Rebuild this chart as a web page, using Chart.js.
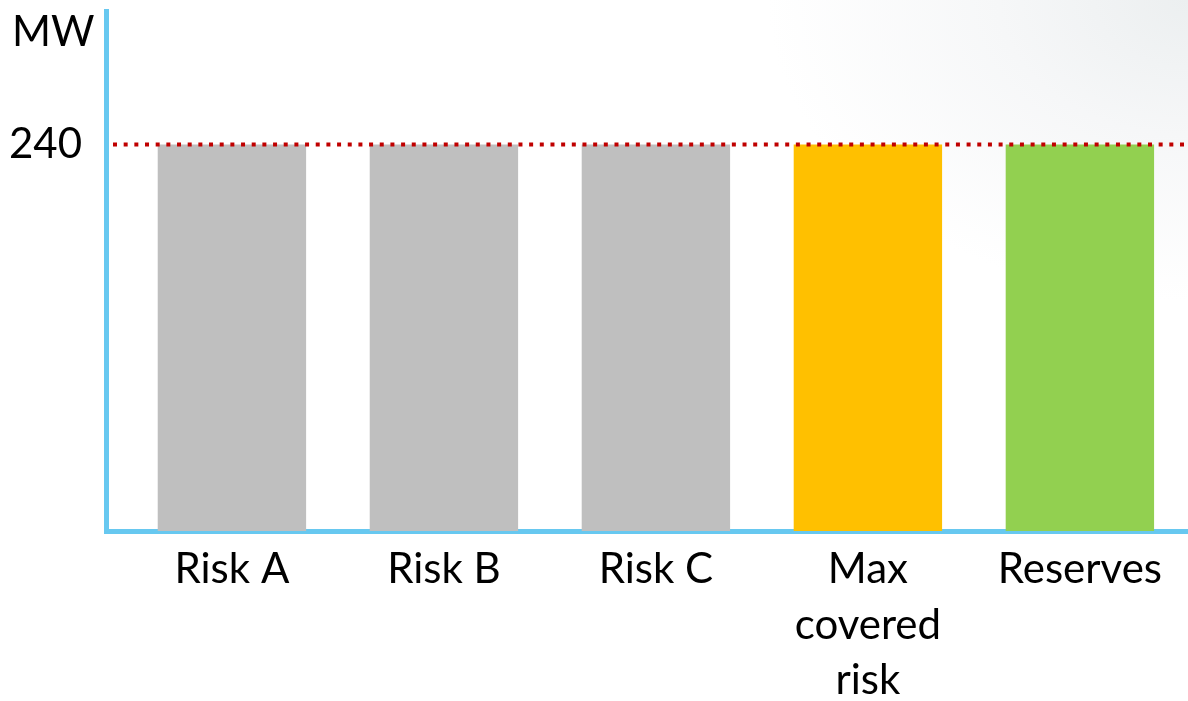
<!DOCTYPE html>
<html>
<head>
<meta charset="utf-8">
<script src="https://cdn.jsdelivr.net/npm/chart.js@4"></script>
<style>
  html, body { margin: 0; padding: 0; }
  body {
    width: 1188px; height: 701px; overflow: hidden;
    background: radial-gradient(ellipse 420px 300px at 1188px 0px, #eceff0 0%, #f6f7f8 45%, #ffffff 100%);
  }
  #wrap { position: relative; width: 1188px; height: 701px; }
</style>
</head>
<body>
<div id="wrap"><canvas id="chart" width="1188" height="701"></canvas></div>
<script>
// Categories (multi-line labels as arrays), values in MW
const categories = ['Risk A', 'Risk B', 'Risk C', ['Max', 'covered', 'risk'], 'Reserves'];
const valuesMW = [240, 240, 240, 240, 240];
const barColors = ['#bfbfbf', '#bfbfbf', '#bfbfbf', '#ffc000', '#92d050'];
const yTickValues = [240];
const referenceLevel = 240;
const unitLabel = 'MW';

const FONT = 'Lato, "Liberation Sans", sans-serif';
const FONT_SIZE = 42;
const AXIS_BLUE = '#67c8f0';

// Dotted reference line at the capacity level, drawn over the bars
const referenceLine = {
  id: 'referenceLine',
  afterDatasetsDraw(chart) {
    const { ctx, chartArea, scales } = chart;
    const y = scales.y.getPixelForValue(referenceLevel);
    ctx.save();
    ctx.strokeStyle = '#c00000';
    ctx.lineWidth = 4;
    ctx.setLineDash([4, 6.67]);
    ctx.beginPath();
    ctx.moveTo(chartArea.left + 7, y);
    ctx.lineTo(chart.width, y);
    ctx.stroke();
    ctx.restore();
  }
};

// Unit caption at the top of the value axis
const unitCaption = {
  id: 'unitCaption',
  afterDraw(chart) {
    const { ctx, scales } = chart;
    ctx.save();
    ctx.fillStyle = '#000';
    ctx.font = FONT_SIZE + 'px ' + FONT;
    ctx.textAlign = 'left';
    ctx.textBaseline = 'middle';
    ctx.fillText(unitLabel, 12, scales.y.top + 21);
    ctx.restore();
  }
};

new Chart(document.getElementById('chart'), {
  type: 'bar',
  data: {
    datasets: [{
      data: valuesMW.map((v, i) => ({ x: i, y: v })),
      backgroundColor: barColors,
      borderWidth: 0,
      barPercentage: 0.7,
      categoryPercentage: 1
    }]
  },
  options: {
    responsive: false,
    animation: false,
    layout: { padding: { top: 11, right: 0, left: 0, bottom: 0 } },
    plugins: { legend: { display: false }, tooltip: { enabled: false } },
    scales: {
      x: {
        type: 'linear',
        bounds: 'data',
        offset: false,
        min: -0.594,
        max: 4.51,
        z: 1,
        afterBuildTicks(scale) { scale.ticks = categories.map((_, i) => ({ value: i })); },
        afterFit(scale) {
          scale.height = 170;
          scale.paddingLeft = 0; scale.paddingRight = 0;
        },
        grid: { display: false, drawTicks: false, offset: false },
        border: { display: true, color: AXIS_BLUE, width: 5 },
        ticks: {
          autoSkip: false,
          maxRotation: 0,
          padding: 11,
          color: '#000',
          font: { family: FONT, size: FONT_SIZE, lineHeight: 1.32 },
          callback: (v) => categories[v]
        }
      },
      y: {
        bounds: 'data',
        min: 0,
        max: 323,
        z: 1,
        afterBuildTicks(scale) { scale.ticks = yTickValues.map(v => ({ value: v })); },
        afterFit(scale) {
          scale.width = 106;
          scale.paddingTop = 0; scale.paddingBottom = 0;
        },
        grid: { display: false, drawTicks: false },
        border: { display: true, color: AXIS_BLUE, width: 5 },
        ticks: {
          padding: 24,
          color: '#000',
          font: { family: FONT, size: FONT_SIZE }
        }
      }
    }
  },
  plugins: [referenceLine, unitCaption]
});
</script>
</body>
</html>
